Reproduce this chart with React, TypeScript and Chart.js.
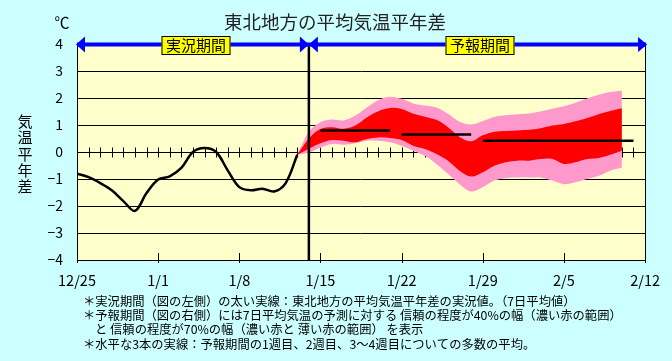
import React, { useEffect, useRef } from "react";
import { Chart, registerables } from "chart.js";

Chart.register(...registerables);

// ---------- data ----------
const xTickLabels = ["12/25", "1/1", "1/8", "1/15", "1/22", "1/29", "2/5", "2/12"];
const yTickLabels = ["−4", "−3", "−2", "−1", "0", "1", "2", "3", "4"];

// days counted from 12/25
const observedDays = [0, 1, 2, 3, 4, 5, 6, 7, 8, 9, 10, 11, 12, 13, 14, 15, 16, 17, 18, 19];
const observedValues = [
  -0.8, -0.93, -1.15, -1.42, -1.82, -2.18, -1.52, -1.02, -0.9, -0.59,
  0.0, 0.15, 0.0, -0.68, -1.3, -1.42, -1.36, -1.46, -1.15, -0.1,
];

const forecastDays = [
  19, 20, 21, 22, 23, 24, 25, 26, 27, 28, 29, 30, 31, 32, 33, 34, 35, 36, 37, 38,
  39, 40, 41, 42, 43, 44, 45, 46, 47,
];
const upper70 = [
  -0.1, 0.75, 1.1, 1.2, 1.17, 1.35, 1.65, 1.93, 2.05, 1.97, 1.8, 1.72, 1.65, 1.42, 1.12,
  1.02, 1.15, 1.3, 1.36, 1.4, 1.43, 1.5, 1.6, 1.69, 1.82, 1.98, 2.12, 2.22, 2.28,
];
const upper40 = [
  -0.1, 0.5, 0.85, 0.92, 0.86, 0.98, 1.28, 1.51, 1.63, 1.59, 1.42, 1.31, 1.19, 0.92, 0.56,
  0.4, 0.62, 0.75, 0.78, 0.8, 0.82, 0.88, 0.98, 1.04, 1.14, 1.26, 1.4, 1.52, 1.62,
];
const lower40 = [
  -0.1, 0.12, 0.32, 0.44, 0.42, 0.36, 0.48, 0.54, 0.52, 0.44, 0.23, 0.11, -0.07, -0.32, -0.69,
  -0.91, -0.75, -0.51, -0.38, -0.32, -0.32, -0.26, -0.26, -0.44, -0.38, -0.26, -0.22, -0.1, 0.05,
];
const lower70 = [
  -0.1, -0.02, 0.17, 0.3, 0.27, 0.32, 0.42, 0.42, 0.36, 0.23, 0.05, -0.14, -0.44, -0.81, -1.19,
  -1.46, -1.31, -1.06, -0.96, -0.94, -0.94, -0.94, -1.06, -1.19, -1.12, -1.0, -0.88, -0.69, -0.57,
];

const weekMeanStart = [21, 28, 35];
const weekMeanEnd = [27, 34, 48];
const weekMeanValues = [0.8, 0.65, 0.42];

const splitDay = 20;
const periodLabels = ["実況期間", "予報期間"];
const titleText = "東北地方の平均気温平年差";
const unitText = "℃";
const yAxisTitleChars = ["気", "温", "平", "年", "差"];
const notes = [
  "＊実況期間（図の左側）の太い実線：東北地方の平均気温平年差の実況値。（7日平均値）",
  "＊予報期間（図の右側）には7日平均気温の予測に対する 信頼の程度が40%の幅（濃い赤の範囲）",
  "と 信頼の程度が70%の幅（濃い赤と 薄い赤の範囲） を表示",
  "＊水平な3本の実線：予報期間の1週目、2週目、3〜4週目についての多数の平均。",
];

// ---------- style ----------
const FONT = '"Noto Sans CJK JP", "Noto Sans", sans-serif';
const BG = "#CCFFFF";
const PLOT_BG = "#FFFFCC";
const PINK = "#FF99CC";
const RED = "#FF0000";
const BLUE = "#0000FF";

export default function App() {
  const ref = useRef<HTMLCanvasElement>(null);

  useEffect(() => {
    const canvas = ref.current;
    if (!canvas) return;

    const pts = (xs: number[], ys: number[]) => xs.map((x, i) => ({ x, y: ys[i] }));
    const band = (data: any[], color: string, target: number | null, order: number) => ({
      data,
      borderColor: "transparent",
      borderWidth: 0,
      backgroundColor: color,
      fill: target === null ? false : { target },
      pointRadius: 0,
      tension: 0.35,
      order,
    });

    const datasets: any[] = [
      band(pts(forecastDays, upper70), PINK, 1, 5),
      band(pts(forecastDays, lower70), PINK, null, 6),
      band(pts(forecastDays, upper40), RED, 3, 3),
      band(pts(forecastDays, lower40), RED, null, 4),
      {
        data: pts(observedDays, observedValues),
        borderColor: "#000",
        borderWidth: 2.5,
        pointRadius: 0,
        tension: 0.35,
        fill: false,
        order: 2,
      },
      ...weekMeanValues.map((v, i) => ({
        data: [
          { x: weekMeanStart[i], y: v },
          { x: weekMeanEnd[i], y: v },
        ],
        borderColor: "#000",
        borderWidth: 2.5,
        pointRadius: 0,
        fill: false,
        order: 1,
      })),
    ];

    const text = (
      ctx: CanvasRenderingContext2D,
      s: string,
      x: number,
      y: number,
      size: number,
      align: CanvasTextAlign = "center",
      color = "#000"
    ) => {
      ctx.font = `${size}px ${FONT}`;
      ctx.fillStyle = color;
      ctx.textAlign = align;
      ctx.textBaseline = "middle";
      ctx.fillText(s, x, y);
    };

    const arrowHead = (
      ctx: CanvasRenderingContext2D,
      tipX: number,
      y: number,
      dir: number,
      len: number,
      half: number
    ) => {
      ctx.beginPath();
      ctx.moveTo(tipX, y);
      ctx.lineTo(tipX - dir * len, y - half);
      ctx.lineTo(tipX - dir * len, y + half);
      ctx.closePath();
      ctx.fill();
    };

    const decor = {
      id: "decor",
      beforeDraw(chart: any) {
        const { ctx, chartArea: a, width, height } = chart;
        ctx.save();
        ctx.fillStyle = BG;
        ctx.fillRect(0, 0, width, height);
        ctx.fillStyle = PLOT_BG;
        ctx.fillRect(a.left, a.top, a.right - a.left, a.bottom - a.top);
        ctx.restore();
      },
      beforeDatasetsDraw(chart: any) {
        const { ctx, scales } = chart;
        const xs = scales.x;
        const y0 = Math.round(scales.y.getPixelForValue(0)) + 0.5;
        ctx.save();
        ctx.strokeStyle = "#000";
        ctx.lineWidth = 1;
        ctx.beginPath();
        for (let d = xs.min + 1; d < xs.max; d++) {
          const x = Math.round(xs.getPixelForValue(d)) + 0.5;
          ctx.moveTo(x, y0 - 5);
          ctx.lineTo(x, y0 + 5);
        }
        ctx.stroke();
        ctx.restore();
      },
      afterDatasetsDraw(chart: any) {
        const { ctx, chartArea: a, scales } = chart;
        const xs = scales.x;
        const ys = scales.y;
        const xSplit = xs.getPixelForValue(splitDay);
        const yTop = ys.getPixelForValue(ys.max) + 0.5;
        ctx.save();
        // divider
        ctx.strokeStyle = "#000";
        ctx.lineWidth = 2.5;
        ctx.beginPath();
        ctx.moveTo(xSplit, a.top);
        ctx.lineTo(xSplit, a.bottom);
        ctx.stroke();
        // right border
        ctx.lineWidth = 1;
        ctx.beginPath();
        ctx.moveTo(Math.round(a.right) + 0.5, a.top);
        ctx.lineTo(Math.round(a.right) + 0.5, a.bottom);
        ctx.stroke();
        // weekly ticks on bottom axis
        ctx.beginPath();
        xTickLabels.forEach((_, i) => {
          const x = Math.round(xs.getPixelForValue(i * 7)) + 0.5;
          ctx.moveTo(x, a.bottom - 7);
          ctx.lineTo(x, a.bottom + 3);
        });
        ctx.stroke();
        // blue period arrows
        ctx.strokeStyle = BLUE;
        ctx.fillStyle = BLUE;
        ctx.lineWidth = 4;
        ctx.beginPath();
        ctx.moveTo(a.left, yTop);
        ctx.lineTo(a.right + 1, yTop);
        ctx.stroke();
        arrowHead(ctx, a.left - 1, yTop, -1, 9, 8);
        arrowHead(ctx, xSplit, yTop, 1, 9, 8);
        arrowHead(ctx, xSplit, yTop, -1, 9, 8);
        arrowHead(ctx, a.right + 2, yTop, 1, 9, 7.5);
        // period labels
        const centers = [(a.left + xSplit) / 2 + 3, (xSplit + a.right) / 2 + 3];
        periodLabels.forEach((lab, i) => {
          const w = 69;
          const h = 18;
          const cx = Math.round(centers[i]);
          const bx = cx - w / 2;
          const by = Math.round(yTop - h / 2);
          ctx.fillStyle = "#FFFF00";
          ctx.fillRect(bx, by, w, h);
          ctx.strokeStyle = "#000";
          ctx.lineWidth = 1;
          ctx.strokeRect(bx + 0.5, by + 0.5, w - 1, h);
          text(ctx, lab, cx, yTop + 0.5, 15);
        });
        ctx.restore();
      },
      afterDraw(chart: any) {
        const { ctx } = chart;
        ctx.save();
        text(ctx, titleText, 335, 21.5, 18.5, "center", "#222");
        text(ctx, unitText, 62, 22.5, 15);
        yAxisTitleChars.forEach((c, i) => text(ctx, c, 25, 121.5 + i * 16.2, 15));
        const noteX = [83, 83, 95, 83];
        const noteY = [301, 315.5, 329.5, 344.5];
        notes.forEach((n, i) => text(ctx, n, noteX[i], noteY[i], 12.3, "left"));
        ctx.restore();
      },
    };

    const chart = new Chart(canvas, {
      type: "line",
      data: { datasets },
      options: {
        responsive: false,
        animation: false,
        devicePixelRatio: 1,
        layout: { padding: { top: 44, right: 23, left: 0, bottom: 0 } },
        plugins: {
          legend: { display: false },
          tooltip: { enabled: false },
          title: { display: false },
        },
        scales: {
          x: {
            type: "linear",
            min: 0,
            max: 49,
            afterFit: (s: any) => {
              s.height = 101;
            },
            grid: { display: false, drawTicks: false },
            border: { display: true, color: "#000", width: 1 },
            ticks: {
              stepSize: 7,
              autoSkip: false,
              maxRotation: 0,
              padding: 12,
              color: "#000",
              font: { family: FONT, size: 14.5 },
              callback: (_v: any, i: number) => xTickLabels[i],
            },
          },
          y: {
            min: -4,
            max: 4,
            afterFit: (s: any) => {
              s.width = 77;
            },
            grid: { color: "#000", lineWidth: 1, drawTicks: false },
            border: { display: true, color: "#000", width: 1 },
            ticks: {
              stepSize: 1,
              padding: 14,
              color: "#000",
              font: { family: FONT, size: 14 },
              callback: (_v: any, i: number) => yTickLabels[i],
            },
          },
        },
      } as any,
      plugins: [decor],
    });

    return () => chart.destroy();
  }, []);

  return (
    <div style={{ position: "fixed", left: 0, top: 0, width: 672, height: 361 }}>
      <canvas ref={ref} width={672} height={361} />
    </div>
  );
}
